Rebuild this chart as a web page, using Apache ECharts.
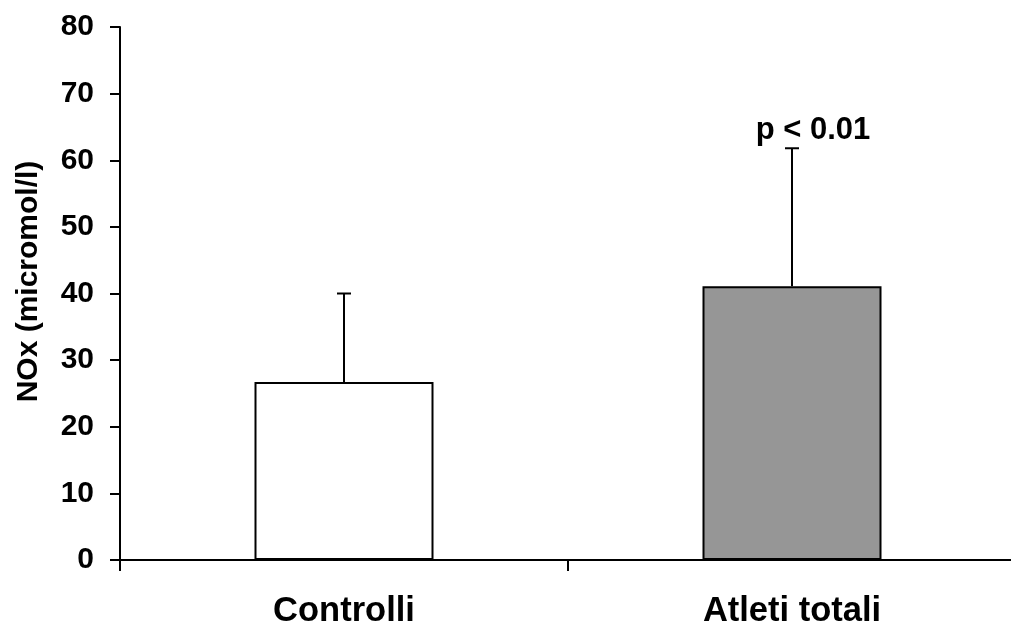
<!DOCTYPE html>
<html>
<head>
<meta charset="utf-8">
<script src="https://cdn.jsdelivr.net/npm/echarts@6/dist/echarts.min.js"></script>
<style>
  html, body { margin: 0; padding: 0; background: #fff; }
  #chart { width: 1011px; height: 632px; }
</style>
</head>
<body>
<div id="chart"></div>
<script>
// Groups and mean NOx values with upper standard deviation
const categories = ['Controlli', 'Atleti totali'];
const means = [26.7, 41.1];
const errorTops = [40.0, 61.8];
const annotations = ['', 'p < 0.01'];
const barColors = ['#ffffff', '#969696'];
const yTicks = { min: 0, max: 80, interval: 10 };

const FONT = '"Liberation Sans", Arial, Helvetica, sans-serif';

const chart = echarts.init(document.getElementById('chart'), null, { renderer: 'canvas' });

chart.setOption({
  animation: false,
  backgroundColor: '#ffffff',
  grid: { left: 120, top: 27, width: 896, height: 533, containLabel: false, outerBoundsMode: 'none' },
  xAxis: {
    type: 'category',
    data: categories,
    boundaryGap: true,
    axisLine: { lineStyle: { color: '#000', width: 2 } },
    axisTick: { show: true, alignWithLabel: false, length: 11, lineStyle: { color: '#000', width: 2 } },
    axisLabel: { color: '#000', fontFamily: FONT, fontWeight: 'bold', fontSize: 34.5, margin: 34 },
    splitLine: { show: false }
  },
  yAxis: {
    type: 'value',
    min: yTicks.min,
    max: yTicks.max,
    interval: yTicks.interval,
    name: 'NOx (micromol/l)',
    nameLocation: 'middle',
    nameGap: 76,
    nameRotate: 90,
    nameTextStyle: { color: '#000', fontFamily: FONT, fontWeight: 'bold', fontSize: 30, padding: [0, 0, 0, 24] },
    axisLine: { show: true, lineStyle: { color: '#000', width: 2 } },
    axisTick: { show: true, inside: false, length: 10, lineStyle: { color: '#000', width: 2 } },
    axisLabel: { color: '#000', fontFamily: FONT, fontWeight: 'bold', fontSize: 30, margin: 26 },
    splitLine: { show: false }
  },
  series: [
    {
      type: 'bar',
      barWidth: 179,
      data: means.map((v, i) => ({
        value: v,
        itemStyle: { color: barColors[i], borderColor: '#000', borderWidth: 2 }
      })),
      z: 2
    },
    {
      // upward error whiskers with caps, plus significance note above
      type: 'custom',
      data: categories.map((c, i) => [i, means[i], errorTops[i], annotations[i]]),
      z: 3,
      renderItem: function (params, api) {
        const idx = api.value(0);
        const base = api.coord([idx, api.value(1)]);
        const top = api.coord([idx, api.value(2)]);
        const capHalf = 7;
        const children = [
          { type: 'line', shape: { x1: base[0], y1: base[1], x2: top[0], y2: top[1] },
            style: { stroke: '#000', lineWidth: 2 } },
          { type: 'line', shape: { x1: top[0] - capHalf, y1: top[1], x2: top[0] + capHalf, y2: top[1] },
            style: { stroke: '#000', lineWidth: 2 } }
        ];
        const note = annotations[params.dataIndex];
        if (note) {
          children.push({
            type: 'text',
            style: {
              x: top[0] + 21, y: top[1] - 2,
              text: note,
              fill: '#000',
              font: 'bold 31px ' + FONT,
              align: 'center',
              verticalAlign: 'bottom'
            }
          });
        }
        return { type: 'group', children: children };
      }
    }
  ]
});
</script>
</body>
</html>
